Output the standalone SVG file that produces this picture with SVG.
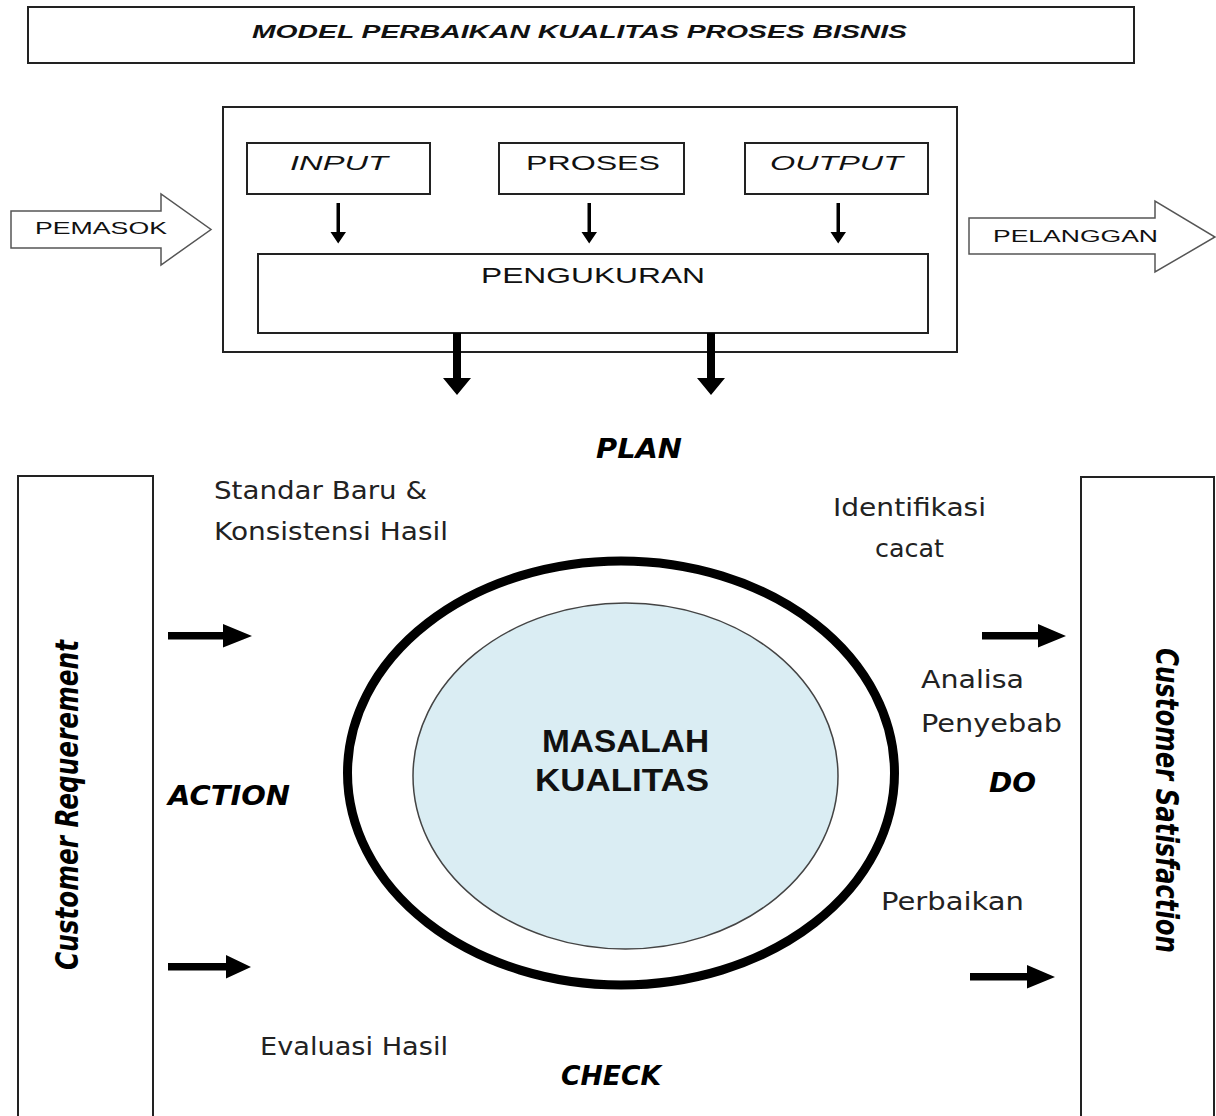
<svg xmlns="http://www.w3.org/2000/svg" width="1216" height="1116" viewBox="0 0 1216 1116">
<style>
.box{fill:#fff;stroke:#222;stroke-width:2}
.blk{fill:#fff;stroke:#555;stroke-width:1.5}
.sans{font-family:"Liberation Sans",Arial,sans-serif;fill:#111}
.lbl{font-family:"DejaVu Sans",Verdana,sans-serif;fill:#222;font-size:24px}
.bi{font-family:"DejaVu Sans",Verdana,sans-serif;font-weight:bold;font-style:italic;fill:#000}
.arr{fill:#000;stroke:none}
</style>
<rect width="1216" height="1116" fill="#fff"/>
<g id="title">
<rect class="box" x="28" y="7" width="1106" height="56"/>
<text class="sans" x="252" y="38" font-size="18" font-weight="bold" font-style="italic" textLength="655" lengthAdjust="spacingAndGlyphs">MODEL PERBAIKAN KUALITAS PROSES BISNIS</text>
</g>
<g id="process-frame">
<rect class="box" x="223" y="107" width="734" height="245"/>
</g>
<g id="input">
<rect class="box" x="247" y="143" width="183" height="51"/>
<text class="sans" x="290" y="170" font-size="21" font-style="italic" textLength="98" lengthAdjust="spacingAndGlyphs">INPUT</text>
</g>
<g id="proses">
<rect class="box" x="499" y="143" width="185" height="51"/>
<text class="sans" x="526" y="170" font-size="21" textLength="134" lengthAdjust="spacingAndGlyphs">PROSES</text>
</g>
<g id="output">
<rect class="box" x="745" y="143" width="183" height="51"/>
<text class="sans" x="770" y="170" font-size="21" font-style="italic" textLength="133" lengthAdjust="spacingAndGlyphs">OUTPUT</text>
</g>
<g id="pengukuran">
<rect class="box" x="258" y="254" width="670" height="79"/>
<text class="sans" x="481" y="283" font-size="22" textLength="224" lengthAdjust="spacingAndGlyphs">PENGUKURAN</text>
</g>
<g id="pemasok">
<polygon class="blk" points="11,211 161,211 161,194 211,229.5 161,265 161,248 11,248"/>
<text class="sans" x="35" y="234" font-size="17" textLength="132" lengthAdjust="spacingAndGlyphs">PEMASOK</text>
</g>
<g id="pelanggan">
<polygon class="blk" points="969,218 1155,218 1155,201 1215,237 1155,272 1155,254 969,254"/>
<text class="sans" x="993" y="242" font-size="17" textLength="165" lengthAdjust="spacingAndGlyphs">PELANGGAN</text>
</g>
<g id="customer-requirement">
<rect class="box" x="18" y="476" width="135" height="660"/>
<text class="bi" transform="translate(78,970) scale(1.3,1) rotate(-90)" font-size="24" textLength="330" lengthAdjust="spacingAndGlyphs">Customer Requerement</text>
</g>
<g id="customer-satisfaction">
<rect class="box" x="1081" y="477" width="133" height="660"/>
<text class="bi" transform="translate(1156,648) scale(1.3,1) rotate(90)" font-size="24" textLength="305" lengthAdjust="spacingAndGlyphs">Customer Satisfaction</text>
</g>
<g id="masalah-kualitas">
<ellipse cx="621" cy="773" rx="273.5" ry="212" fill="#fff" stroke="#000" stroke-width="9"/>
<ellipse cx="625.5" cy="776" rx="212.5" ry="173" fill="#DAEDF3" stroke="#444" stroke-width="1.5"/>
<text class="sans" x="542" y="752" font-size="32" font-weight="bold" textLength="167" lengthAdjust="spacingAndGlyphs">MASALAH</text>
<text class="sans" x="535" y="791" font-size="32" font-weight="bold" textLength="174" lengthAdjust="spacingAndGlyphs">KUALITAS</text>
</g>
<g id="labels">
<text class="bi" x="596" y="458" font-size="26" textLength="86" lengthAdjust="spacingAndGlyphs">PLAN</text>
<text class="bi" x="168" y="805" font-size="26" textLength="122" lengthAdjust="spacingAndGlyphs">ACTION</text>
<text class="bi" x="989" y="792" font-size="26" textLength="47" lengthAdjust="spacingAndGlyphs">DO</text>
<text class="bi" x="561" y="1085" font-size="26" textLength="100" lengthAdjust="spacingAndGlyphs">CHECK</text>
<text class="lbl" x="214" y="499" textLength="213" lengthAdjust="spacingAndGlyphs">Standar Baru &amp;</text>
<text class="lbl" x="214" y="540" textLength="234" lengthAdjust="spacingAndGlyphs">Konsistensi Hasil</text>
<text class="lbl" x="833" y="516" textLength="153" lengthAdjust="spacingAndGlyphs">Identifikasi</text>
<text class="lbl" x="875" y="557" textLength="69" lengthAdjust="spacingAndGlyphs">cacat</text>
<text class="lbl" x="921" y="688" textLength="103" lengthAdjust="spacingAndGlyphs">Analisa</text>
<text class="lbl" x="921" y="732" textLength="141" lengthAdjust="spacingAndGlyphs">Penyebab</text>
<text class="lbl" x="881" y="910" textLength="143" lengthAdjust="spacingAndGlyphs">Perbaikan</text>
<text class="lbl" x="260" y="1055" textLength="188" lengthAdjust="spacingAndGlyphs">Evaluasi Hasil</text>
</g>
<g id="connectors">
<path class="arr" d="M336.5,203h3.5v29h6l-7.8,11.5l-7.7,-11.5h6z"/>
<path class="arr" d="M587.5,203h3.5v29h6l-7.8,11.5l-7.7,-11.5h6z"/>
<path class="arr" d="M836.5,203h3.5v29h6l-7.8,11.5l-7.7,-11.5h6z"/>
<path class="arr" d="M453,333h8v45h10l-14,17l-14,-17h10z"/>
<path class="arr" d="M707,333h8v45h10l-14,17l-14,-17h10z"/>
<path class="arr" d="M168,632h55v-8l29,12l-29,11.5v-8h-55z"/>
<path class="arr" d="M168,963h58v-8l25,12l-25,11.5v-8h-58z"/>
<path class="arr" d="M982,632h56v-8l28,12l-28,11.5v-8h-56z"/>
<path class="arr" d="M970,973h57v-8l28,12l-28,11.5v-8h-57z"/>
</g>
</svg>
